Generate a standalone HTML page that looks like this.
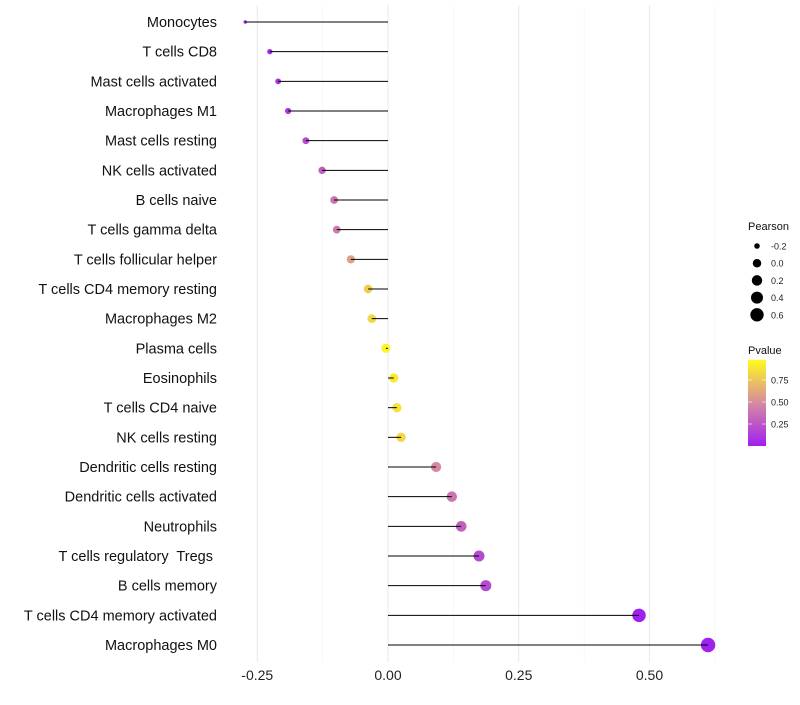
<!DOCTYPE html>
<html><head><meta charset="utf-8"><style>
body{margin:0;background:#fff;font-family:"Liberation Sans",sans-serif}
text{white-space:pre}
</style></head><body>
<svg id="chart" width="800" height="700" xmlns="http://www.w3.org/2000/svg"></svg>
<script>
const categories=["Monocytes","T cells CD8","Mast cells activated","Macrophages M1","Mast cells resting","NK cells activated","B cells naive","T cells gamma delta","T cells follicular helper","T cells CD4 memory resting","Macrophages M2","Plasma cells","Eosinophils","T cells CD4 naive","NK cells resting","Dendritic cells resting","Dendritic cells activated","Neutrophils","T cells regulatory  Tregs ","B cells memory","T cells CD4 memory activated","Macrophages M0"];
const pearson=[-0.273,-0.226,-0.21,-0.191,-0.157,-0.126,-0.103,-0.098,-0.071,-0.038,-0.031,-0.004,0.011,0.017,0.025,0.092,0.122,0.140,0.174,0.187,0.48,0.612];
const pvalue=[0.02,0.05,0.08,0.12,0.2,0.3,0.4,0.42,0.6,0.8,0.85,0.97,0.93,0.9,0.85,0.5,0.4,0.3,0.2,0.2,0.001,0.0001];
const xTicks=[-0.25,0,0.25,0.5];
const xTickLabels=["-0.25","0.00","0.25","0.50"];
const sizeLegend=[-0.2,0,0.2,0.4,0.6];
const sizeLegendLabels=["-0.2","0.0","0.2","0.4","0.6"];
const pTicks=[0.25,0.5,0.75];
const pTickLabels=["0.25","0.50","0.75"];

const svg=document.getElementById('chart');
const NS="http://www.w3.org/2000/svg";
function mk(t,a,p){const e=document.createElementNS(NS,t);for(const k in a)e.setAttribute(k,a[k]);(p||svg).appendChild(e);return e;}
const x=v=>388+v*523;
const n=categories.length;
const y=i=>22+i*(645-22)/(n-1);
const r=v=>1.2+6*Math.sqrt(Math.max(0,(v+0.28)/0.89));
function lerp(a,b,t){return a.map((c,i)=>Math.round(c+(b[i]-c)*t));}
function col(p){const c0=[160,32,240],c1=[214,138,160],c2=[255,250,30];
 const c=p<0.5?lerp(c0,c1,p/0.5):lerp(c1,c2,(p-0.5)/0.5);return `rgb(${c.join(',')})`;}

const minor=[-0.125,0.125,0.375,0.625];
minor.forEach(v=>{if(x(v)<730){const g=mk('line',{x1:x(v),x2:x(v),y1:5,y2:662,stroke:'#f2f2f2','stroke-width':0.6});
}});
xTicks.forEach((v,i)=>{const g=mk('line',{x1:x(v),x2:x(v),y1:5,y2:662,stroke:'#ebebeb','stroke-width':1.1});

const t=mk('text',{x:x(v),y:680,'text-anchor':'middle','font-size':14,fill:'#222'});t.textContent=xTickLabels[i];
});

categories.forEach((c,i)=>{
 const t=mk('text',{x:217,y:y(i)+5,'text-anchor':'end','font-size':14.5,fill:'#111'});t.textContent=c;
 
 const d=mk('circle',{cx:x(pearson[i]),cy:y(i),r:r(pearson[i]),fill:col(pvalue[i])});
 
 const l=mk('line',{x1:x(0),x2:x(pearson[i]),y1:y(i),y2:y(i),stroke:'#000','stroke-width':1});
 
});

const st=mk('text',{x:748,y:230,'font-size':11,fill:'#111'});st.textContent='Pearson';

sizeLegend.forEach((v,i)=>{const cy=246+i*17.2;
 const c=mk('circle',{cx:757,cy:cy,r:r(v)*0.93,fill:'#000'});
 const t=mk('text',{x:771,y:cy+3.5,'font-size':9,fill:'#222'});t.textContent=sizeLegendLabels[i];
 });

const pt=mk('text',{x:748,y:354,'font-size':11,fill:'#111'});pt.textContent='Pvalue';

const defs=mk('defs',{});const lg=mk('linearGradient',{id:'pg',x1:0,y1:1,x2:0,y2:0},defs);
[0,0.25,0.5,0.75,1].forEach(s=>mk('stop',{offset:s,'stop-color':col(s)},lg));
const pY=p=>446-p*88;
const bar=mk('rect',{x:748,y:pY(0.98),width:18,height:pY(0)-pY(0.98),fill:'url(#pg)'});

pTicks.forEach((p,i)=>{mk('line',{x1:748,x2:752,y1:pY(p),y2:pY(p),stroke:'#fff','stroke-width':0.6});
 mk('line',{x1:762,x2:766,y1:pY(p),y2:pY(p),stroke:'#fff','stroke-width':0.6});
 const t=mk('text',{x:771,y:pY(p)+3.5,'font-size':9,fill:'#222'});t.textContent=pTickLabels[i];
 });
</script>
</body></html>
